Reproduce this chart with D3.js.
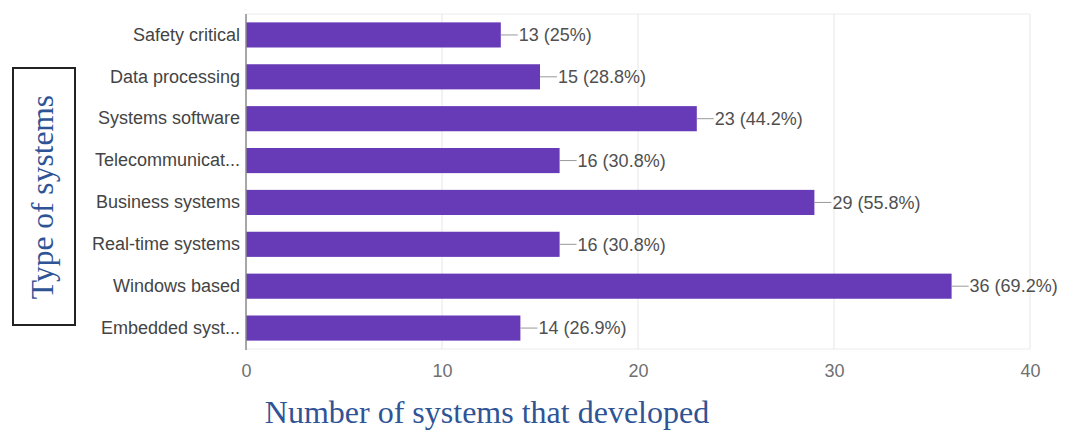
<!DOCTYPE html>
<html>
<head>
<meta charset="utf-8">
<script src="https://cdn.jsdelivr.net/npm/d3@7/dist/d3.min.js"></script>
<style>
  html, body { margin: 0; padding: 0; background: #fff; }
  svg { display: block; }
</style>
</head>
<body>
<svg id="chart" width="1065" height="430"></svg>
<script>
// Categories (top to bottom) and counts of developed systems
const categories = [
  "Safety critical",
  "Data processing",
  "Systems software",
  "Telecommunicat...",
  "Business systems",
  "Real-time systems",
  "Windows based",
  "Embedded syst..."
];
const counts = [13, 15, 23, 16, 29, 16, 36, 14];
const percents = ["25%", "28.8%", "44.2%", "30.8%", "55.8%", "30.8%", "69.2%", "26.9%"];
const xTicks = [0, 10, 20, 30, 40];

const data = categories.map((c, i) => ({ cat: c, n: counts[i], pct: percents[i] }));

const svg = d3.select("#chart");
const plot = { left: 246, right: 1030, top: 14, bottom: 349 };
const sans = "'Liberation Sans', Arial, sans-serif";
const serif = "'Liberation Serif', 'Times New Roman', serif";

const x = d3.scaleLinear().domain([0, 40]).range([plot.left, plot.right]);
const y = d3.scaleBand().domain(categories).range([plot.top, plot.bottom]).paddingInner(0.4).paddingOuter(0.2);

// frame lines top and bottom
svg.append("g").selectAll("line")
  .data([plot.top, plot.bottom])
  .join("line")
  .attr("x1", plot.left).attr("x2", plot.right)
  .attr("y1", d => d).attr("y2", d => d)
  .attr("stroke", "#ececec").attr("stroke-width", 1);

// vertical gridlines
svg.append("g").selectAll("line")
  .data(xTicks.filter(t => t > 0))
  .join("line")
  .attr("x1", d => x(d)).attr("x2", d => x(d))
  .attr("y1", plot.top).attr("y2", plot.bottom)
  .attr("stroke", "#e6e6e6").attr("stroke-width", 1);

// x axis tick labels
const xAxis = d3.axisBottom(x).tickValues(xTicks).tickSize(0).tickPadding(15);
const gx = svg.append("g").attr("transform", `translate(0,${plot.bottom})`).call(xAxis);
gx.select(".domain").remove();
gx.selectAll("text")
  .attr("font-family", sans)
  .attr("font-size", 18).attr("fill", "#707070");

// bars
svg.append("g").selectAll("rect")
  .data(data)
  .join("rect")
  .attr("x", x(0))
  .attr("y", d => y(d.cat))
  .attr("width", d => x(d.n) - x(0))
  .attr("height", y.bandwidth())
  .attr("fill", "#673ab7");

// leader lines and value labels
const lbl = svg.append("g");
lbl.selectAll("line")
  .data(data)
  .join("line")
  .attr("x1", d => x(d.n)).attr("x2", d => x(d.n) + 17)
  .attr("y1", d => y(d.cat) + y.bandwidth() / 2)
  .attr("y2", d => y(d.cat) + y.bandwidth() / 2)
  .attr("stroke", "#999").attr("stroke-width", 1);
lbl.selectAll("text")
  .data(data)
  .join("text")
  .attr("x", d => x(d.n) + 18)
  .attr("y", d => y(d.cat) + y.bandwidth() / 2)
  .attr("dy", "0.35em")
  .attr("font-family", sans)
  .attr("font-size", 18).attr("fill", "#505050")
  .text(d => `${d.n} (${d.pct})`);

// y axis with category labels
const yAxis = d3.axisLeft(y).tickSize(0).tickPadding(6);
const gy = svg.append("g").attr("transform", `translate(${plot.left},0)`).call(yAxis);
gy.select(".domain").remove();
gy.selectAll("text")
  .attr("font-family", sans)
  .attr("font-size", 18).attr("fill", "#444");
svg.append("line")
  .attr("x1", plot.left).attr("x2", plot.left)
  .attr("y1", plot.top).attr("y2", plot.bottom + 1)
  .attr("stroke", "#8a8a8a").attr("stroke-width", 1.5);

// boxed y-axis title
svg.append("rect")
  .attr("x", 13).attr("y", 68).attr("width", 62).attr("height", 257)
  .attr("fill", "#fff").attr("stroke", "#222").attr("stroke-width", 2);
svg.append("text")
  .attr("transform", "translate(42,197) rotate(-90)")
  .attr("text-anchor", "middle").attr("dy", "0.35em")
  .attr("font-family", serif)
  .attr("font-size", 31.5).attr("fill", "#2f5496")
  .text("Type of systems");

// x-axis title
svg.append("text")
  .attr("x", 487).attr("y", 423)
  .attr("text-anchor", "middle")
  .attr("font-family", serif)
  .attr("font-size", 32).attr("fill", "#2f5496")
  .text("Number of systems that developed");
</script>
</body>
</html>
